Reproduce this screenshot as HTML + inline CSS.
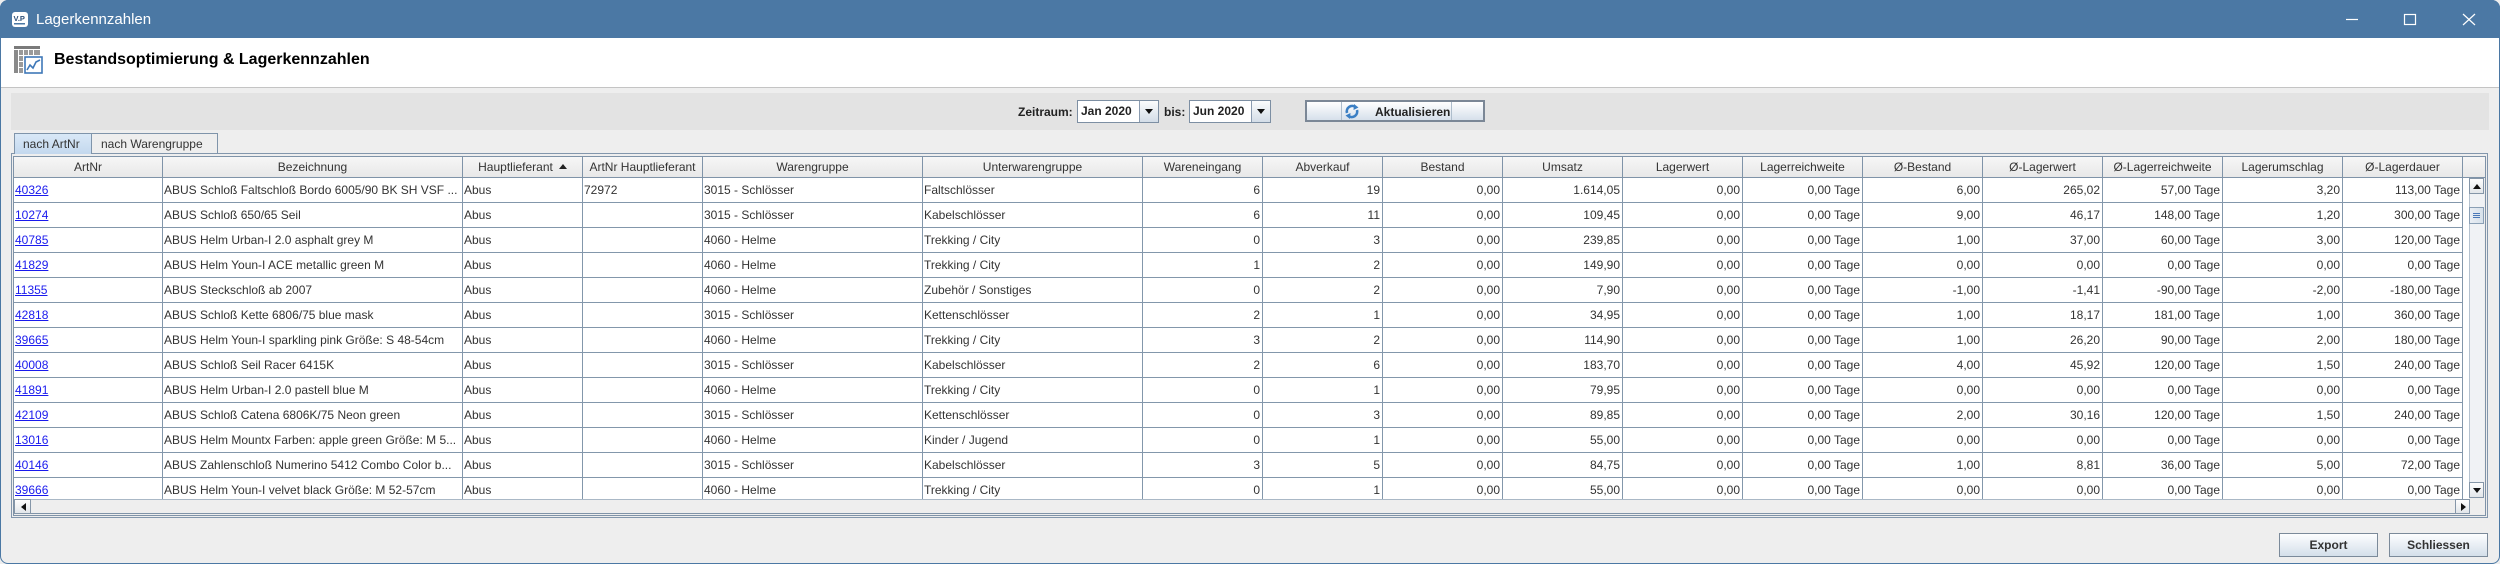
<!DOCTYPE html>
<html><head><meta charset="utf-8">
<style>
*{box-sizing:border-box;margin:0;padding:0}
html,body{width:2500px;height:564px;overflow:hidden}
body{position:relative;background:#eeeeee;font-family:"Liberation Sans",Arial,sans-serif;font-size:12px;color:#333}
.a{position:absolute}
#title{left:0;top:0;width:2500px;height:38px;background:#4b78a4;border-radius:8px 8px 0 0}
#ttext{left:36px;top:11px;color:#fff;font-size:15px;line-height:18px}
#hdr{left:1px;top:38px;width:2498px;height:50px;background:#fff;border-bottom:1px solid #c4c4c4}
#htext{left:54px;top:51px;font-size:16px;font-weight:bold;color:#000;line-height:18px}
#gp{left:11px;top:93px;width:2478px;height:37px;background:#e3e3e3}
.lbl{font-weight:bold;font-size:12px;line-height:14px;color:#222}
.combo{height:23px;border:1px solid #7d8fa3;background:#fff}
.combo .t{position:absolute;left:3px;top:3px;font-weight:bold;color:#222;line-height:15px}
.combo .b{position:absolute;right:0;top:0;width:19px;height:21px;border-left:1px solid #8a9bb0;background:linear-gradient(#fbfcfd,#d3dde8)}
.combo .b:after{content:"";position:absolute;left:5px;top:8px;border-left:4px solid transparent;border-right:4px solid transparent;border-top:5px solid #111}
#akt{left:1305px;top:100px;width:180px;height:22px;border:2px solid #7b8796;background:linear-gradient(#ffffff,#d6e0eb)}
.btn{height:24px;border:1px solid #7b8a9a;background:linear-gradient(#fdfeff,#d4dfea);font-weight:bold;text-align:center;line-height:22px;color:#333}
.tab{height:21px;border:1px solid #7f94aa;border-bottom:none;line-height:20px;font-size:12px;color:#333}
#tabp{left:11px;top:153px;width:2477px;height:365px;border:1px solid #8296ac}
#sp{left:13px;top:156px;width:2473px;height:360px;border:1px solid #7f93a8;background:#eeeeee}
.grid{display:grid;grid-template-columns:149px 300px 120px 120px 220px 220px repeat(11,120px)}
#head{left:14px;top:157px;width:2471px;height:21px;background:linear-gradient(#f6f6f6,#e8e8e8);border-bottom:1px solid #7f93a8}
#head .grid>div{height:20px;border-right:1px solid #7f93a8;text-align:center;line-height:21px;white-space:nowrap;overflow:hidden;color:#333}
#body{left:14px;top:178px;width:2455px;height:321px;overflow:hidden;background:#fff}
.row>div{height:25px;border-right:1px solid #8397ab;border-bottom:1px solid #8397ab;line-height:24px;padding:0 2px 0 1px;white-space:nowrap;overflow:hidden;color:#333;background:#fff}
.row>div:nth-child(n+7){text-align:right;padding:0 2px 0 0}
.row a{color:#1a1aee;text-decoration:underline}
#vs{left:2469px;top:178px;width:15px;height:320px;background:#f0f2f5;border-left:1px solid #b5c2cf}
.sb{position:absolute;width:15px;height:16px;border:1px solid #8596a8;background:linear-gradient(#fdfdfd,#e2e6ea)}
#hs{left:14px;top:499px;width:2455px;height:15px;background:#eeeeee;border-top:1px solid #aab8c6;border-bottom:1px solid #7f93a8}
.tri-up{position:absolute;left:3px;top:5px;border-left:4px solid transparent;border-right:4px solid transparent;border-bottom:5px solid #111}
.tri-dn{position:absolute;left:3px;top:5px;border-left:4px solid transparent;border-right:4px solid transparent;border-top:5px solid #111}
.tri-l{position:absolute;left:6px;top:3px;border-top:4px solid transparent;border-bottom:4px solid transparent;border-right:5px solid #111}
.tri-r{position:absolute;left:5px;top:3px;border-top:4px solid transparent;border-bottom:4px solid transparent;border-left:5px solid #111}
#frame{left:0;top:0;width:2500px;height:564px;border:1px solid #4b78a4;border-radius:8px;pointer-events:none}
</style></head><body>

<div class="a" id="title"></div>
<svg class="a" style="left:12px;top:12px" width="16" height="15" viewBox="0 0 16 15">
<rect x="0" y="0" width="16" height="15" rx="3" fill="#fff"/>
<text x="1.5" y="9" font-family="Liberation Sans,Arial,sans-serif" font-size="7.5" font-weight="bold" fill="#2d4f78">V.P</text>
<rect x="2" y="11" width="11" height="1.5" fill="#4b78a4"/>
</svg>
<div class="a" id="ttext">Lagerkennzahlen</div>
<svg class="a" style="left:2340px;top:10px" width="150" height="20">
<line x1="6" y1="9.5" x2="18" y2="9.5" stroke="#fff" stroke-width="1.2"/>
<rect x="64.5" y="4.5" width="11" height="10" fill="none" stroke="#fff" stroke-width="1.2"/>
<line x1="123" y1="4" x2="135" y2="15" stroke="#fff" stroke-width="1.2"/>
<line x1="135" y1="4" x2="123" y2="15" stroke="#fff" stroke-width="1.2"/>
</svg>

<div class="a" id="hdr"></div>
<svg class="a" style="left:14px;top:46px" width="29" height="28" viewBox="0 0 29 28">
<rect x="0" y="0" width="26" height="3" fill="#7a7a7a"/>
<rect x="0" y="4" width="4" height="23" fill="#8a8a8a"/>
<rect x="5" y="4" width="4" height="5" fill="#9a9a9a"/><rect x="10" y="4" width="4" height="5" fill="#9a9a9a"/><rect x="15" y="4" width="4" height="5" fill="#9a9a9a"/><rect x="20" y="4" width="6" height="5" fill="#9a9a9a"/>
<rect x="5" y="10" width="4" height="5" fill="#9a9a9a"/><rect x="5" y="16" width="4" height="5" fill="#9a9a9a"/><rect x="5" y="22" width="4" height="5" fill="#9a9a9a"/>
<rect x="11" y="11" width="17" height="16" fill="#fff" stroke="#3f78b8" stroke-width="1.6"/>
<polyline points="13,24 16,19 19,22 22,16 26,14" fill="none" stroke="#3f78b8" stroke-width="1.6"/>
</svg>
<div class="a" id="htext">Bestandsoptimierung &amp; Lagerkennzahlen</div>

<div class="a" id="gp"></div>
<div class="a lbl" style="left:1018px;top:105px">Zeitraum:</div>
<div class="a combo" style="left:1077px;top:100px;width:82px"><span class="t">Jan 2020</span><span class="b"></span></div>
<div class="a lbl" style="left:1164px;top:105px">bis:</div>
<div class="a combo" style="left:1189px;top:100px;width:82px"><span class="t">Jun 2020</span><span class="b"></span></div>
<div class="a" id="akt">
<div class="a" style="left:34px;top:0;width:1px;height:18px;background:#aebdcc"></div>
<div class="a" style="left:144px;top:0;width:1px;height:18px;background:#aebdcc"></div>
<svg class="a" style="left:37px;top:2px" width="16" height="15" viewBox="0 0 16 15">
<path d="M3,9 A5.5,5.5 0 0 1 11.5,3" fill="none" stroke="#3b7fc4" stroke-width="2.6"/>
<polygon points="10,0 14.5,3.5 9.5,6" fill="#3b7fc4"/>
<path d="M13,6 A5.5,5.5 0 0 1 4.5,12" fill="none" stroke="#3b7fc4" stroke-width="2.6"/>
<polygon points="6,15 1.5,11.5 6.5,9" fill="#3b7fc4"/>
</svg>
<div class="a lbl" style="left:68px;top:3px">Aktualisieren</div>
</div>

<div class="a" id="tabp"></div>
<div class="a tab" style="left:14px;top:133px;width:78px;height:21px;background:linear-gradient(#d9e8f7,#c3d8ee);padding-left:8px">nach ArtNr</div>
<div class="a tab" style="left:92px;top:133px;width:126px;height:20px;background:#eeeeee;padding-left:9px;border-left:none">nach Warengruppe</div>

<div class="a" id="sp"></div>
<div class="a" id="head"><div class="grid">
<div>ArtNr</div><div>Bezeichnung</div><div>Hauptlieferant<span style="display:inline-block;margin-left:6px;vertical-align:2px;border-left:4px solid transparent;border-right:4px solid transparent;border-bottom:5px solid #222"></span></div><div>ArtNr Hauptlieferant</div><div>Warengruppe</div><div>Unterwarengruppe</div><div>Wareneingang</div><div>Abverkauf</div><div>Bestand</div><div>Umsatz</div><div>Lagerwert</div><div>Lagerreichweite</div><div>Ø-Bestand</div><div>Ø-Lagerwert</div><div>Ø-Lagerreichweite</div><div>Lagerumschlag</div><div>Ø-Lagerdauer</div>
</div></div>

<div class="a" id="body">
<div class="grid row"><div><a>40326</a></div><div>ABUS Schloß Faltschloß Bordo 6005/90 BK SH VSF ...</div><div>Abus</div><div>72972</div><div>3015 - Schlösser</div><div>Faltschlösser</div><div>6</div><div>19</div><div>0,00</div><div>1.614,05</div><div>0,00</div><div>0,00 Tage</div><div>6,00</div><div>265,02</div><div>57,00 Tage</div><div>3,20</div><div>113,00 Tage</div></div>
<div class="grid row"><div><a>10274</a></div><div>ABUS Schloß 650/65 Seil</div><div>Abus</div><div></div><div>3015 - Schlösser</div><div>Kabelschlösser</div><div>6</div><div>11</div><div>0,00</div><div>109,45</div><div>0,00</div><div>0,00 Tage</div><div>9,00</div><div>46,17</div><div>148,00 Tage</div><div>1,20</div><div>300,00 Tage</div></div>
<div class="grid row"><div><a>40785</a></div><div>ABUS Helm Urban-I 2.0 asphalt grey M</div><div>Abus</div><div></div><div>4060 - Helme</div><div>Trekking / City</div><div>0</div><div>3</div><div>0,00</div><div>239,85</div><div>0,00</div><div>0,00 Tage</div><div>1,00</div><div>37,00</div><div>60,00 Tage</div><div>3,00</div><div>120,00 Tage</div></div>
<div class="grid row"><div><a>41829</a></div><div>ABUS Helm Youn-I ACE metallic green M</div><div>Abus</div><div></div><div>4060 - Helme</div><div>Trekking / City</div><div>1</div><div>2</div><div>0,00</div><div>149,90</div><div>0,00</div><div>0,00 Tage</div><div>0,00</div><div>0,00</div><div>0,00 Tage</div><div>0,00</div><div>0,00 Tage</div></div>
<div class="grid row"><div><a>11355</a></div><div>ABUS Steckschloß ab 2007</div><div>Abus</div><div></div><div>4060 - Helme</div><div>Zubehör / Sonstiges</div><div>0</div><div>2</div><div>0,00</div><div>7,90</div><div>0,00</div><div>0,00 Tage</div><div>-1,00</div><div>-1,41</div><div>-90,00 Tage</div><div>-2,00</div><div>-180,00 Tage</div></div>
<div class="grid row"><div><a>42818</a></div><div>ABUS Schloß Kette 6806/75 blue mask</div><div>Abus</div><div></div><div>3015 - Schlösser</div><div>Kettenschlösser</div><div>2</div><div>1</div><div>0,00</div><div>34,95</div><div>0,00</div><div>0,00 Tage</div><div>1,00</div><div>18,17</div><div>181,00 Tage</div><div>1,00</div><div>360,00 Tage</div></div>
<div class="grid row"><div><a>39665</a></div><div>ABUS Helm Youn-I sparkling pink Größe: S 48-54cm</div><div>Abus</div><div></div><div>4060 - Helme</div><div>Trekking / City</div><div>3</div><div>2</div><div>0,00</div><div>114,90</div><div>0,00</div><div>0,00 Tage</div><div>1,00</div><div>26,20</div><div>90,00 Tage</div><div>2,00</div><div>180,00 Tage</div></div>
<div class="grid row"><div><a>40008</a></div><div>ABUS Schloß Seil Racer 6415K</div><div>Abus</div><div></div><div>3015 - Schlösser</div><div>Kabelschlösser</div><div>2</div><div>6</div><div>0,00</div><div>183,70</div><div>0,00</div><div>0,00 Tage</div><div>4,00</div><div>45,92</div><div>120,00 Tage</div><div>1,50</div><div>240,00 Tage</div></div>
<div class="grid row"><div><a>41891</a></div><div>ABUS Helm Urban-I 2.0 pastell blue M</div><div>Abus</div><div></div><div>4060 - Helme</div><div>Trekking / City</div><div>0</div><div>1</div><div>0,00</div><div>79,95</div><div>0,00</div><div>0,00 Tage</div><div>0,00</div><div>0,00</div><div>0,00 Tage</div><div>0,00</div><div>0,00 Tage</div></div>
<div class="grid row"><div><a>42109</a></div><div>ABUS Schloß Catena 6806K/75 Neon green</div><div>Abus</div><div></div><div>3015 - Schlösser</div><div>Kettenschlösser</div><div>0</div><div>3</div><div>0,00</div><div>89,85</div><div>0,00</div><div>0,00 Tage</div><div>2,00</div><div>30,16</div><div>120,00 Tage</div><div>1,50</div><div>240,00 Tage</div></div>
<div class="grid row"><div><a>13016</a></div><div>ABUS Helm Mountx Farben: apple green Größe: M 5...</div><div>Abus</div><div></div><div>4060 - Helme</div><div>Kinder / Jugend</div><div>0</div><div>1</div><div>0,00</div><div>55,00</div><div>0,00</div><div>0,00 Tage</div><div>0,00</div><div>0,00</div><div>0,00 Tage</div><div>0,00</div><div>0,00 Tage</div></div>
<div class="grid row"><div><a>40146</a></div><div>ABUS Zahlenschloß Numerino 5412 Combo Color b...</div><div>Abus</div><div></div><div>3015 - Schlösser</div><div>Kabelschlösser</div><div>3</div><div>5</div><div>0,00</div><div>84,75</div><div>0,00</div><div>0,00 Tage</div><div>1,00</div><div>8,81</div><div>36,00 Tage</div><div>5,00</div><div>72,00 Tage</div></div>
<div class="grid row"><div><a>39666</a></div><div>ABUS Helm Youn-I velvet black Größe: M 52-57cm</div><div>Abus</div><div></div><div>4060 - Helme</div><div>Trekking / City</div><div>0</div><div>1</div><div>0,00</div><div>55,00</div><div>0,00</div><div>0,00 Tage</div><div>0,00</div><div>0,00</div><div>0,00 Tage</div><div>0,00</div><div>0,00 Tage</div></div>
</div>

<div class="a" id="vs">
<div class="sb" style="left:-1px;top:0"><span class="tri-up"></span></div>
<div class="sb" style="left:-1px;top:29px;height:17px;background:linear-gradient(90deg,#e9eef4,#d6e0ea);border-color:#8a9fb5">
<div class="a" style="left:3px;top:5px;width:7px;height:1px;background:#4a78b8"></div>
<div class="a" style="left:3px;top:7px;width:7px;height:1px;background:#4a78b8"></div>
<div class="a" style="left:3px;top:9px;width:7px;height:1px;background:#4a78b8"></div>
</div>
<div class="sb" style="left:-1px;top:304px"><span class="tri-dn"></span></div>
</div>

<div class="a" id="hs">
<div class="sb" style="left:0;top:-1px;width:17px;height:15px"><span class="tri-l"></span></div>
<div class="sb" style="left:2441px;top:-1px;width:15px;height:15px"><span class="tri-r"></span></div>
</div>

<div class="a btn" style="left:2279px;top:533px;width:99px">Export</div>
<div class="a btn" style="left:2389px;top:533px;width:99px">Schliessen</div>

<div class="a" id="frame"></div>
</body></html>
